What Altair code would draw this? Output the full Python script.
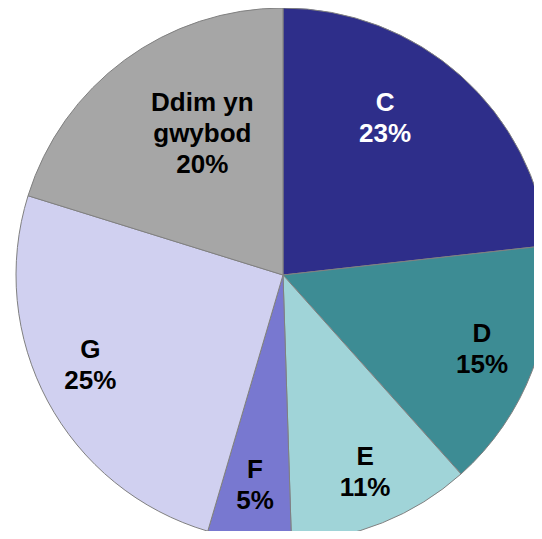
import altair as alt
import pandas as pd

categories = ["C", "D", "E", "F", "G", "Ddim yn gwybod"]
percent = [23, 15, 11, 5, 25, 20]
label_names = ["C", "D", "E", "F", "G", "Ddim yn\ngwybod"]
colors = ["#2E2E8A", "#3D8C94", "#A0D4D8", "#7878D0", "#D0D0F0", "#A6A6A6"]

df = pd.DataFrame({
    "cat": categories,
    "pct": percent,
    "idx": list(range(len(categories))),
    "label": [f"{n}\n{p}%" for n, p in zip(label_names, percent)],
})

CX, CY, R = 275, 267, 267

theta = alt.Theta("pct:Q", stack=True)
order = alt.Order("idx:Q", sort="ascending")
color = alt.Color("cat:N", scale=alt.Scale(domain=categories, range=colors), legend=None)

base = alt.Chart(df)

pie = base.mark_arc(outerRadius=R, stroke="#808080", strokeWidth=1).encode(
    theta=theta, order=order, color=color,
    x=alt.value(CX), y=alt.value(CY),
)

# per-label placement: (radius, dx, dy, colour)
placement = {
    "C": (186, -22, -33, "white"),
    "D": (213, 0, -17, "black"),
    "E": (213, 3, -16, "black"),
    "F": (213, -1, -16, "black"),
    "G": (213, -5, -26, "black"),
    "Ddim yn gwybod": (163, 16, -41, "black"),
}

layers = [pie]
for cat in categories:
    r, dx, dy, c = placement[cat]
    layers.append(
        base.mark_text(
            radius=r, dx=dx, dy=dy, font="Liberation Sans", fontSize=26,
            fontWeight="bold", lineBreak="\n", lineHeight=31, color=c,
            align="center", baseline="middle",
        ).encode(
            theta=theta, order=order,
            x=alt.value(CX), y=alt.value(CY),
            text=alt.condition(alt.datum.cat == cat, alt.Text("label:N"), alt.value("")),
        )
    )

chart = alt.layer(*layers).properties(
    width=526, height=523,
    autosize=alt.AutoSizeParams(type="none"),
    padding=0,
).configure_view(stroke=None)

chart.save("out.html", embed_options={"renderer": "svg", "actions": False})
